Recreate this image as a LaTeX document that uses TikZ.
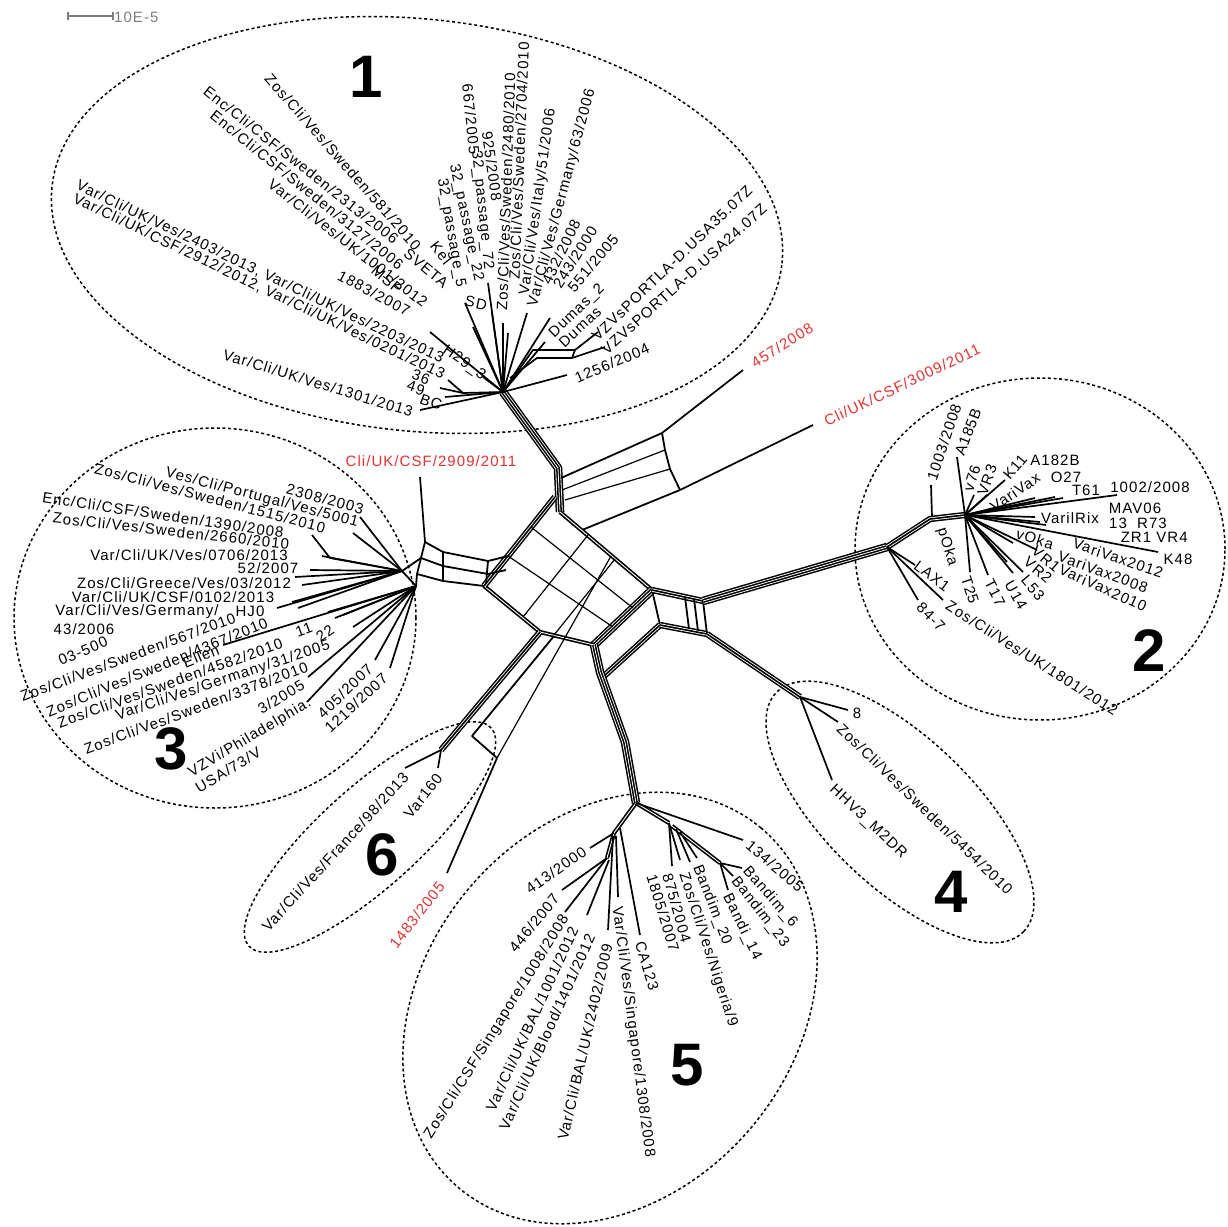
\documentclass[tikz,border=0pt]{standalone}
\usepackage{fontspec}
\setmainfont{Liberation Sans}
\newfontfamily\taxfam{Liberation Sans}[LetterSpace=7]
\newfontfamily\numfam{Liberation Sans}
\usetikzlibrary{calc}
\definecolor{lblred}{RGB}{232,50,50}
\definecolor{bargray}{RGB}{125,125,125}
\newcommand\taxfont{\taxfam\fontsize{15}{17}\selectfont}
\newcommand\numfont{\numfam\bfseries\fontsize{60}{60}\selectfont}
% bundles of parallel split edges (2, 3 and 4 lines)
\newcommand\bandB[1]{\draw[line width=4.2pt,line join=round]#1;\draw[white,line width=0.9pt,line join=round]#1;}
\newcommand\bandC[1]{\draw[line width=6.3pt,line join=round]#1;\draw[white,line width=3.3pt,line join=round]#1;\draw[line width=1.6pt,line join=round]#1;}
\newcommand\bandD[1]{\draw[line width=8.6pt,line join=round]#1;\draw[white,line width=5.6pt,line join=round]#1;\draw[line width=3.9pt,line join=round]#1;\draw[white,line width=0.8pt,line join=round]#1;}
\begin{document}
\begin{tikzpicture}[x=1pt,y=-1pt,
  lbl/.style={font=\taxfont, inner sep=0pt},
  rlbl/.style={lbl, text=lblred},
  grp/.style={line width=1.5pt, dash pattern=on 3pt off 2.6pt},
  num/.style={font=\numfont, inner sep=0pt},
  leaf/.style={line width=1.7pt},
  web/.style={line width=1.8pt, line join=round},
  fine/.style={line width=1.2pt}]
\useasboundingbox (0,0) rectangle (1228,1226);
\fill[white] (0,0) rectangle (1228,1226);

% ---------- scale bar ----------
\coordinate (sb0) at (68,16);
\coordinate (sb1) at (113,16);
\draw[bargray, line width=1.4pt] (sb0) -- (sb1);
\draw[bargray, line width=1.4pt] ($(sb0)+(0,-4)$) -- ($(sb0)+(0,4)$);
\draw[bargray, line width=1.4pt] ($(sb1)+(0,-4)$) -- ($(sb1)+(0,4)$);
\node[lbl, text=bargray, anchor=west] (sbt) at (114,17) {10E-5};

% ---------- group outlines ----------
\coordinate (g1) at (417,225);
\draw[grp, rotate around={-6:(g1)}] (g1) ellipse [x radius=367pt, y radius=206pt];
\coordinate (g2) at (1040,549);
\draw[grp] (g2) ellipse [x radius=185pt, y radius=171pt];
\coordinate (g3) at (215,618);
\draw[grp] (g3) ellipse [x radius=201pt, y radius=190pt];
\coordinate (g4) at (900,812);
\draw[grp, rotate around={-44:(g4)}] (g4) ellipse [x radius=172pt, y radius=74pt];
\coordinate (g5) at (610,1008);
\draw[grp, rotate around={50:(g5)}] (g5) ellipse [x radius=235pt, y radius=185pt];
\coordinate (g6) at (370,837);
\draw[grp, rotate around={42:(g6)}] (g6) ellipse [x radius=163pt, y radius=50pt];

% ---------- central network ----------
\coordinate (T) at (560,512);
\coordinate (ul) at (555,497);
\coordinate (R) at (652,590);
\coordinate (B) at (594,645);
\coordinate (L) at (484,586);
\coordinate (K6) at (540,632);
\coordinate (s1a) at (558,468);
\coordinate (h1) at (503,392);
\coordinate (h2) at (965,515);
\coordinate (j2) at (887,547);
\coordinate (h3a) at (402,571);
\coordinate (h3b) at (416,586);
\coordinate (h4) at (800,697);
\coordinate (h5) at (636,803);
\coordinate (h6) at (441,750);
\coordinate (j1483) at (497,758);

% trunk of group 1
\bandD{(h1) -- (s1a) -- (T)}
% split towards 457/2008 and Cli/UK/CSF/3009/2011
\coordinate (q1) at (662,433);
\coordinate (q2) at (665,450);
\coordinate (q3) at (670,469);
\coordinate (q4) at (680,490);
\draw[web] (561,478) -- (q1);
\draw[fine] (562,490) -- (q2);
\draw[fine] (565,500) -- (q3);
\draw[web] (582,530) -- (q4);
\draw[web] (q1) -- (q2) -- (q3) -- (q4);

% the central box
\bandB{(T) -- (R)}
\bandD{(R) -- (B)}
\bandB{(B) -- (K6) -- (L)}
\bandC{(L) -- (ul)}
\draw[fine] (531,527) -- (633,608);
\draw[fine] (508,556) -- (613,627);
\draw[fine] (588,535) -- (523,617);
\draw[fine] (615,559) -- (554,635);
\draw[fine] (611,556) -- (j1483);

% towards group 3
\draw[web] (508,556) -- (488,561) -- (443,552) -- (425,542);
\draw[web] (506,570) -- (488,574) -- (443,566) -- (421,558);
\draw[web] (L) -- (443,581) -- (417,574);
\draw[web] (425,542) -- (421,558) -- (417,574);
\draw[web] (443,552) -- (443,581);
\draw[web] (488,561) -- (486,584);
\draw[web] (421,558) -- (h3a);
\draw[web] (417,574) -- (h3b);
\draw[web] (h3a) -- (h3b);

% towards group 6
\bandC{(K6) -- (h6)}
\draw[web] (554,636) -- (472,736) -- (j1483);

% towards group 5
\draw[web] (R) -- (660,625);
\bandC{(660,625) -- (604,676)}
\bandD{(B) -- (600,672) -- (625,742) -- (h5)}

% towards groups 2 and 4
\bandC{(R) -- (703,601)}
\bandC{(660,625) -- (707,634)}
\draw[web] (685,597) -- (689,629);
\draw[web] (694,599) -- (698,631);
\draw[web] (703,601) -- (707,634);
\bandD{(703,601) -- (j2)}
\bandC{(j2) -- (930,519) -- (h2)}
\bandC{(707,634) -- (h4)}

% ---------- unplaced isolates ----------
\coordinate (e457) at (743,370);
\coordinate (e3009) at (813,425);
\coordinate (e2909a) at (425,542);
\coordinate (e2909) at (420,477);
\coordinate (e1483) at (447,873);
\draw[leaf] (q1) -- (e457);
\draw[leaf] (q4) -- (e3009);
\draw[leaf] (e2909a) -- (e2909);
\draw[leaf] (j1483) -- (e1483);
\node[rlbl, rotate=32.4] (n457) at (782,345) {457/2008};
\node[rlbl, rotate=25.5] (n3009) at (902,385) {Cli/UK/CSF/3009/2011};
\node[rlbl] (n2909) at (431,461) {Cli/UK/CSF/2909/2011};
\node[rlbl, rotate=52] (n1483) at (417,915) {1483/2005};

% ---------- group 1 ----------
\foreach \p in {(465,303),(473,327),(488,283),(492,313),(503,323),(508,333),(527,313),(550,318),(545,342),(430,332),(483,377),(445,397),(420,410),(567,375)}
  \draw[leaf] (h1) -- \p;
\draw[leaf] (h1) -- (463,393) -- (448,380);
\draw[leaf] (463,393) -- (440,388);
\draw[leaf] (h1) -- (533,350) -- (575,350) -- (598,332);
\draw[leaf] (510,378) -- (537,358) -- (572,358) -- (605,347);
\draw[leaf] (575,350) -- (572,358);

\node[lbl, rotate=-48.8] (a1) at (343,162) {Zos/Cli/Ves/Sweden/581/2010};
\node[lbl, rotate=-52] (a2) at (441,253) {Kel};
\node[lbl, rotate=-38.4] (a3) at (301,165) {Enc/Cli/CSF/Sweden/2313/2006};
\node[lbl, rotate=-40] (a4) at (426,268) {SVETA};
\node[lbl, rotate=-39] (a5) at (307,190) {Enc/Cli/CSF/Sweden/3127/2006};
\node[lbl, rotate=-38] (a6) at (348,243) {Var/Cli/Ves/UK/1001/2012};
\node[lbl, rotate=-40] (a7) at (387,280) {MSP};
\node[lbl, rotate=-28] (a8) at (374,293) {1883/2007};
\node[lbl, rotate=-25.5] (a9) at (260,272) {Var/Cli/UK/Ves/2403/2013, Var/Cli/UK/Ves/2203/2013};
\node[lbl, rotate=-25.6] (a10) at (259,287) {Var/Cli/UK/CSF/2912/2012, Var/Cli/UK/Ves/0201/2013};
\node[lbl, rotate=-35] (a11) at (464,363) {H29\_3};
\node[lbl, rotate=-20] (a12) at (421,377) {36};
\node[lbl, rotate=-20] (a13) at (416,388) {49};
\node[lbl, rotate=-20] (a14) at (431,402) {BC};
\node[lbl, rotate=-17] (a15) at (318,383) {Var/Cli/UK/Ves/1301/2013};
\node[lbl, rotate=-80] (a16) at (451,233) {32\_passage\_5};
\node[lbl, rotate=-78] (a17) at (466,223) {32\_passage\_22};
\node[lbl, rotate=-84] (a18) at (482,210) {32\_passage\_72};
\node[lbl, rotate=-84] (a19) at (471,119) {667/2005};
\node[lbl, rotate=-82] (a20) at (492,166) {925/2008};
\node[lbl, rotate=88] (a21) at (506,192) {Zos/Cli/Ves/Sweden/2480/2010};
\node[lbl, rotate=87.7] (a22) at (519,161) {Zos/Cli/Ves/Sweden/2704/2010};
\node[lbl, rotate=82] (a23) at (538,202) {Var/Cli/Ves/Italy/51/2006};
\node[lbl, rotate=75] (a24) at (562,198) {Var/Cli/Ves/Germany/63/2006};
\node[lbl, rotate=64] (a25) at (561,252) {432/2008};
\node[lbl, rotate=58] (a26) at (575,257) {243/2000};
\node[lbl, rotate=50] (a27) at (593,263) {551/2005};
\node[lbl, rotate=44] (a28) at (577,311) {Dumas\_2};
\node[lbl, rotate=43] (a29) at (580,327) {Dumas};
\node[lbl, rotate=44] (a30) at (672,263) {VZVsPORTLA-D.USA35.07Z};
\node[lbl, rotate=42] (a31) at (684,279) {VZVsPORTLA-D.USA24.07Z};
\node[lbl, rotate=23] (a32) at (612,363) {1256/2004};
\node[lbl, rotate=-12] (a33) at (476,303) {SD};

% ---------- group 2 ----------
\draw[leaf] (932,517) -- (931,485);
\foreach \p in {(957,457),(974,495),(987,495),(1005,480),(1035,498),(1055,497),(1063,498),(1117,495),(1035,517),(1040,522),(1046,525),(1158,552),(1013,543),(1037,550),(1007,562),(1023,572),(1013,573),(988,575),(970,572)}
  \draw[leaf] (h2) -- \p;
\foreach \p in {(915,565),(918,600),(943,600)}
  \draw[leaf] (j2) -- \p;

\node[lbl, rotate=71.5] (b1) at (944,442) {1003/2008};
\node[lbl, rotate=69] (b2) at (968,432) {A185B};
\node[lbl, rotate=72] (b3) at (972,478) {v76};
\node[lbl, rotate=70] (b4) at (987,480) {VR3};
\node[lbl, rotate=50] (b5) at (1015,467) {K11};
\node[lbl, rotate=34] (b6) at (1015,492) {VariVax};
\node[lbl] (b7) at (1055,460) {A182B};
\node[lbl] (b8) at (1066,477) {O27};
\node[lbl] (b9) at (1086,490) {T61};
\node[lbl] (b10) at (1150,487) {1002/2008};
\node[lbl] (b11) at (1135,508) {MAV06};
\node[lbl] (b12) at (1070,518) {VarilRix};
\node[lbl] (b13) at (1118,523) {13};
\node[lbl] (b14) at (1152,523) {R73};
\node[lbl] (b15) at (1136,537) {ZR1};
\node[lbl] (b16) at (1172,537) {VR4};
\node[lbl] (b17) at (1178,559) {K48};
\node[lbl, rotate=-18] (b18) at (1035,539) {vOka};
\node[lbl, rotate=-19] (b19) at (1118,558) {VariVax2012};
\node[lbl, rotate=-20] (b20) at (1103,572) {VariVax2008};
\node[lbl, rotate=-24] (b21) at (1103,588) {VariVax2010};
\node[lbl, rotate=-40] (b22) at (1046,559) {VR1};
\node[lbl, rotate=-40] (b23) at (1038,570) {VR2};
\node[lbl, rotate=-50] (b24) at (1033,588) {L53};
\node[lbl, rotate=-60] (b25) at (1016,595) {U14};
\node[lbl, rotate=-63] (b26) at (995,593) {T17};
\node[lbl, rotate=-72] (b27) at (970,590) {T25};
\node[lbl, rotate=-73] (b28) at (947,547) {pOka};
\node[lbl, rotate=-37] (b29) at (932,576) {LAX1};
\node[lbl, rotate=-45] (b30) at (931,617) {84-7};
\node[lbl, rotate=-32.4] (b31) at (1032,658) {Zos/Cli/Ves/UK/1801/2012};

% ---------- group 3 ----------
\foreach \p in {(360,517),(353,533),(322,556),(310,570),(295,577),(302,585),(292,602),(298,608),(277,608)}
  \draw[leaf] (h3a) -- \p;
\draw[leaf] (h3a) -- (330,558) -- (312,535);
\foreach \p in {(223,645),(328,612),(335,618),(343,615),(353,627),(308,677),(307,702),(375,660),(390,668)}
  \draw[leaf] (h3b) -- \p;

\node[lbl, rotate=-14.7] (c1) at (262,498) {Ves/Cli/Portugal/Ves/5001};
\node[lbl, rotate=-14.6] (c2) at (210,498) {Zos/Cli/Ves/Sweden/1515/2010};
\node[lbl, rotate=-15] (c3) at (325,499) {2308/2003};
\node[lbl, rotate=-8.4] (c4) at (163,515) {Enc/Cli/CSF/Sweden/1390/2008};
\node[lbl, rotate=-6.5] (c5) at (171,531) {Zos/Cli/Ves/Sweden/2660/2010};
\node[lbl] (c6) at (189,555) {Var/Cli/UK/Ves/0706/2013};
\node[lbl] (c7) at (268,568) {52/2007};
\node[lbl] (c8) at (184,583) {Zos/Cli/Greece/Ves/03/2012};
\node[lbl] (c9) at (173,597) {Var/Cli/UK/CSF/0102/2013};
\node[lbl] (c10) at (137,612) {Var/Cli/Ves/Germany/};
\node[lbl] (c11) at (84,629) {43/2006};
\node[lbl] (c12) at (250,611) {HJ0};
\node[lbl, rotate=23] (c13) at (83,651) {03-500};
\node[lbl, rotate=20.4] (c14) at (128,657) {Zos/Cli/Ves/Sweden/567/2010};
\node[lbl, rotate=22.3] (c15) at (157,667) {Zos/Cli/Ves/Sweden/4367/2010};
\node[lbl, rotate=22] (c16) at (201,656) {Ellen};
\node[lbl, rotate=20] (c17) at (304,630) {11};
\node[lbl, rotate=35] (c18) at (325,633) {22};
\node[lbl, rotate=19.7] (c19) at (170,683) {Zos/Cli/Ves/Sweden/4582/2010};
\node[lbl, rotate=18.4] (c20) at (223,681) {Var/Cli/Ves/Germany/31/2005};
\node[lbl, rotate=20.5] (c21) at (196,708) {Zos/Cli/Ves/Sweden/3378/2010};
\node[lbl, rotate=31] (c22) at (281,697) {3/2005};
\node[lbl, rotate=31] (c23) at (250,738) {VZVi/Philadelphia.};
\node[lbl, rotate=31] (c24) at (228,770) {USA/73/V};
\node[lbl, rotate=44] (c25) at (345,691) {405/2007};
\node[lbl, rotate=43] (c26) at (356,703) {1219/2007};

% ---------- group 4 ----------
\foreach \p in {(848,710),(838,722),(832,780)}
  \draw[leaf] (h4) -- \p;
\node[lbl] (d1) at (857,713) {8};
\node[lbl, rotate=-44] (d2) at (925,809) {Zos/Cli/Ves/Sweden/5454/2010};
\node[lbl, rotate=-43] (d3) at (868,822) {HHV3\_M2DR};

% ---------- group 5 ----------
\coordinate (k5a) at (614,833);
\coordinate (k5b) at (607,858);
\coordinate (k5c) at (669,823);
\coordinate (k5d) at (720,863);
\bandB{(h5) -- (k5a) -- (k5b)}
\bandB{(h5) -- (k5c)}
\bandB{(672,826) -- (k5d)}
\draw[leaf] (k5a) -- (590,848);
\draw[leaf] (k5b) -- (562,890);
\draw[leaf] (k5b) -- (565,912);
\draw[leaf] (609,860) -- (587,915);
\draw[leaf] (613,836) -- (608,930);
\draw[leaf] (616,836) -- (618,897);
\draw[leaf] (620,828) -- (640,935);
\draw[leaf] (h5) -- (743,840);
\draw[leaf] (k5c) -- (672,866);
\draw[leaf] (k5c) -- (680,860);
\draw[leaf] (676,829) -- (690,862);
\draw[leaf] (680,832) -- (697,858);
\draw[leaf] (k5d) -- (742,868);
\draw[leaf] (k5d) -- (733,876);
\draw[leaf] (k5d) -- (728,890);

\node[lbl, rotate=-40] (f1) at (775,866) {134/2005};
\node[lbl, rotate=-49] (f2) at (770,897) {Bandim\_6};
\node[lbl, rotate=-52] (f3) at (760,912) {Bandim\_23};
\node[lbl, rotate=-64] (f4) at (742,927) {Bandi\_14};
\node[lbl, rotate=-69] (f5) at (712,905) {Bandim\_20};
\node[lbl, rotate=-72] (f6) at (708,950) {Zos/Cli/Ves/Nigeria/9};
\node[lbl, rotate=-74] (f7) at (677,908) {875/2004};
\node[lbl, rotate=-73] (f8) at (663,913) {1805/2007};
\node[lbl, rotate=-73] (f9) at (647,966) {CA123};
\node[lbl, rotate=-82.5] (f10) at (633,1032) {Var/Cli/Ves/Singapore/1308/2008};
\node[lbl, rotate=77] (f11) at (585,1042) {Var/Cli/BAL/UK/2402/2009};
\node[lbl, rotate=65.7] (f12) at (547,1032) {Var/Cli/UK/Blood/1401/2012};
\node[lbl, rotate=65.3] (f13) at (532,1019) {Var/Cli/UK/BAL/1001/2012};
\node[lbl, rotate=58] (f14) at (497,1027) {Zos/Cli/CSF/Singapore/1008/2008};
\node[lbl, rotate=51] (f15) at (534,923) {446/2007};
\node[lbl, rotate=35] (f16) at (556,870) {413/2000};

% ---------- group 6 ----------
\draw[leaf] (h6) -- (405,768);
\draw[leaf] (h6) -- (438,768);
\node[lbl, rotate=47.5] (e1) at (335,852) {Var/Cli/Ves/France/98/2013};
\node[lbl, rotate=52] (e2) at (423,796) {Var160};

% ---------- group numbers ----------
\node[num] (m1) at (366,77) {1};
\node[num] (m2) at (1149,651) {2};
\node[num] (m3) at (171,749) {3};
\node[num] (m4) at (951,892) {4};
\node[num] (m5) at (687,1065) {5};
\node[num] (m6) at (382,855) {6};
\end{tikzpicture}
\end{document}
